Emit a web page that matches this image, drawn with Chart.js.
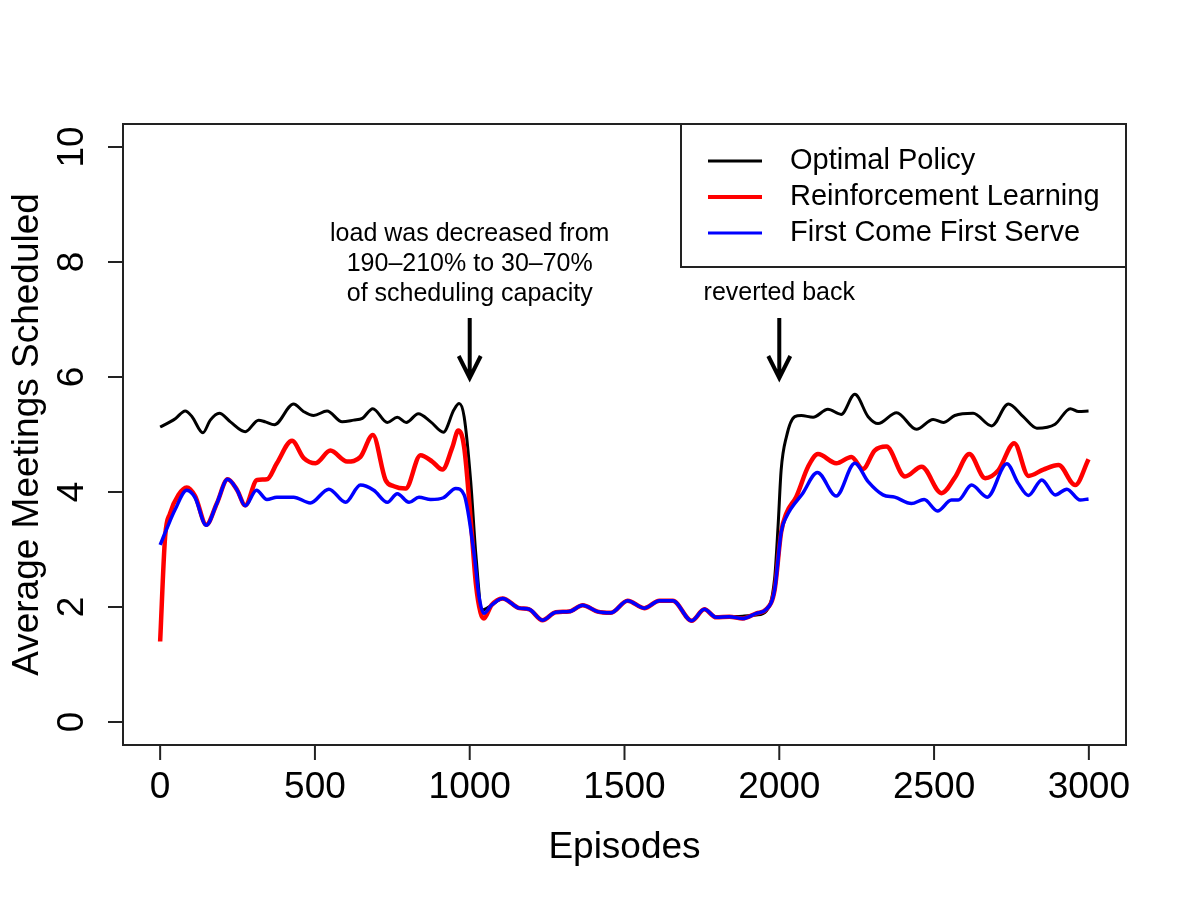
<!DOCTYPE html>
<html>
<head>
<meta charset="utf-8">
<script src="https://cdn.jsdelivr.net/npm/chart.js@4/dist/chart.umd.min.js"></script>
<style>
  html, body { margin: 0; padding: 0; background: #fff; }
  #wrap { width: 1190px; height: 898px; }
</style>
</head>
<body>
<div id="wrap"><canvas id="mychart" width="1190" height="898"></canvas></div>
<script>
// series (episode, average meetings)
var optimalEpisodes = [0, 32, 50, 81, 103, 138, 162, 191, 227, 275, 318, 340, 369, 431, 463, 496, 539, 588, 625, 653, 687, 734, 766, 795, 834, 874, 915, 949, 966, 982, 1003, 1020, 1040, 1070, 1106, 1160, 1192, 1235, 1278, 1321, 1365, 1413, 1456, 1510, 1564, 1613, 1656, 1717, 1758, 1796, 1839, 1882, 1926, 1958, 1985, 1996, 2006, 2023, 2050, 2071, 2109, 2157, 2200, 2244, 2287, 2319, 2379, 2443, 2497, 2530, 2567, 2626, 2686, 2740, 2788, 2832, 2891, 2940, 2967, 2999];
var optimalValues = [5.13, 5.22, 5.28, 5.41, 5.31, 5.03, 5.25, 5.37, 5.22, 5.05, 5.25, 5.22, 5.17, 5.53, 5.40, 5.33, 5.41, 5.22, 5.25, 5.28, 5.45, 5.21, 5.30, 5.21, 5.36, 5.22, 5.04, 5.43, 5.54, 5.31, 4.2, 2.9, 1.95, 2.03, 2.15, 1.98, 1.96, 1.77, 1.91, 1.92, 2.03, 1.92, 1.90, 2.11, 1.98, 2.11, 2.11, 1.76, 1.96, 1.82, 1.83, 1.84, 1.86, 1.93, 2.5, 3.4, 4.38, 4.96, 5.31, 5.33, 5.30, 5.44, 5.35, 5.70, 5.31, 5.19, 5.38, 5.09, 5.26, 5.21, 5.33, 5.37, 5.15, 5.53, 5.31, 5.11, 5.18, 5.45, 5.40, 5.41];

var rlEpisodes = [0, 16, 32, 59, 86, 113, 149, 183, 218, 248, 275, 313, 345, 377, 426, 464, 502, 550, 604, 647, 687, 728, 755, 793, 841, 879, 912, 944, 963, 982, 1005, 1020, 1035, 1046, 1070, 1106, 1160, 1192, 1235, 1278, 1321, 1365, 1413, 1456, 1510, 1564, 1613, 1656, 1717, 1758, 1796, 1839, 1882, 1926, 1958, 1985, 2006, 2023, 2055, 2093, 2125, 2184, 2233, 2270, 2308, 2346, 2406, 2460, 2524, 2567, 2614, 2665, 2708, 2759, 2805, 2853, 2902, 2956, 2999];
var rlValues = [1.40, 3.22, 3.63, 3.95, 4.08, 3.93, 3.43, 3.80, 4.22, 4.04, 3.77, 4.21, 4.22, 4.50, 4.89, 4.59, 4.50, 4.72, 4.53, 4.61, 4.99, 4.21, 4.10, 4.06, 4.64, 4.53, 4.39, 4.78, 5.07, 4.78, 3.4, 2.4, 1.9, 1.80, 2.03, 2.15, 1.98, 1.96, 1.77, 1.91, 1.92, 2.03, 1.92, 1.90, 2.11, 1.98, 2.11, 2.11, 1.76, 1.96, 1.82, 1.83, 1.80, 1.89, 1.96, 2.3, 3.3, 3.63, 3.92, 4.44, 4.66, 4.50, 4.61, 4.40, 4.72, 4.79, 4.27, 4.44, 3.98, 4.25, 4.66, 4.24, 4.38, 4.85, 4.28, 4.39, 4.47, 4.12, 4.57];

var fcfsEpisodes = [0, 22, 48, 86, 113, 149, 183, 218, 248, 275, 311, 345, 377, 431, 485, 545, 599, 647, 690, 734, 766, 804, 836, 874, 915, 955, 982, 1014, 1030, 1046, 1070, 1106, 1160, 1192, 1235, 1278, 1321, 1365, 1413, 1456, 1510, 1564, 1613, 1656, 1717, 1758, 1796, 1839, 1882, 1926, 1958, 1985, 2006, 2023, 2076, 2123, 2184, 2244, 2287, 2335, 2373, 2427, 2468, 2511, 2556, 2578, 2621, 2672, 2735, 2772, 2805, 2848, 2891, 2929, 2972, 2999];
var fcfsValues = [3.08, 3.37, 3.69, 4.03, 3.90, 3.42, 3.80, 4.22, 4.04, 3.76, 4.03, 3.87, 3.91, 3.91, 3.81, 4.05, 3.82, 4.12, 4.03, 3.82, 3.97, 3.82, 3.91, 3.87, 3.90, 4.06, 3.95, 2.93, 2.18, 1.89, 2.03, 2.15, 1.98, 1.96, 1.77, 1.91, 1.92, 2.03, 1.92, 1.90, 2.11, 1.98, 2.11, 2.11, 1.76, 1.96, 1.82, 1.83, 1.80, 1.89, 1.96, 2.3, 3.3, 3.57, 3.98, 4.34, 3.93, 4.50, 4.18, 3.95, 3.91, 3.80, 3.87, 3.67, 3.86, 3.86, 4.12, 3.91, 4.49, 4.15, 3.94, 4.21, 3.95, 4.05, 3.86, 3.88];

var seriesNames = ['Optimal Policy', 'Reinforcement Learning', 'First Come First Serve'];
var seriesColors = ['#000000', '#ff0000', '#0000ff'];
var xTicks = [0, 500, 1000, 1500, 2000, 2500, 3000];
var yTicks = [0, 2, 4, 6, 8, 10];

var FONT = '"Liberation Sans", Arial, Helvetica, sans-serif';

function pts(xs, ys) {
  return xs.map(function (x, i) { return { x: x, y: ys[i] }; });
}

// R-style box, axes, legend and arrows drawn on top of the chart area
var rStyle = {
  id: 'rStyle',
  afterDraw: function (chart) {
    var ctx = chart.ctx, a = chart.chartArea;
    var xs = chart.scales.x, ys = chart.scales.y;
    ctx.save();
    ctx.strokeStyle = '#222';
    ctx.lineWidth = 2;
    ctx.strokeRect(a.left, a.top, a.right - a.left, a.bottom - a.top);

    ctx.fillStyle = '#000';
    ctx.font = '37px ' + FONT;
    ctx.textAlign = 'center';
    ctx.textBaseline = 'middle';
    xTicks.forEach(function (t) {
      var px = xs.getPixelForValue(t);
      ctx.beginPath(); ctx.moveTo(px, a.bottom); ctx.lineTo(px, a.bottom + 15); ctx.stroke();
      ctx.fillText(String(t), px, a.bottom + 43);
    });
    yTicks.forEach(function (t) {
      var py = ys.getPixelForValue(t);
      ctx.beginPath(); ctx.moveTo(a.left, py); ctx.lineTo(a.left - 15, py); ctx.stroke();
      ctx.save();
      ctx.translate(a.left - 50, py);
      ctx.rotate(-Math.PI / 2);
      ctx.fillText(String(t), 0, 0);
      ctx.restore();
    });
    ctx.fillText('Episodes', (a.left + a.right) / 2, 848);
    ctx.save();
    ctx.translate(28, (a.top + a.bottom) / 2);
    ctx.rotate(-Math.PI / 2);
    ctx.fillText('Average Meetings Scheduled', 0, 0);
    ctx.restore();

    // legend
    ctx.strokeRect(681, a.top, a.right - 681, 143);
    ctx.font = '29px ' + FONT;
    ctx.textAlign = 'left';
    var widths = [3, 4, 3];
    seriesNames.forEach(function (n, i) {
      var y = 161 + i * 36;
      ctx.strokeStyle = seriesColors[i];
      ctx.lineWidth = widths[i];
      ctx.beginPath(); ctx.moveTo(708, y); ctx.lineTo(762, y); ctx.stroke();
      ctx.fillText(n, 790, y);
    });

    // annotations with arrows
    ctx.font = '25px ' + FONT;
    ctx.textAlign = 'center';
    var x1 = xs.getPixelForValue(1000), x2 = xs.getPixelForValue(2000);
    ctx.fillText('load was decreased from', x1, 234);
    ctx.fillText('190\u2013210% to 30\u201370%', x1, 264);
    ctx.fillText('of scheduling capacity', x1, 294);
    ctx.fillText('reverted back', x2, 293);
    ctx.strokeStyle = '#000';
    ctx.lineWidth = 4;
    [x1, x2].forEach(function (px) {
      ctx.beginPath();
      ctx.moveTo(px, 318); ctx.lineTo(px, 378);
      ctx.moveTo(px - 11, 356); ctx.lineTo(px, 378); ctx.lineTo(px + 11, 356);
      ctx.stroke();
    });
    ctx.restore();
  }
};

var ctx = document.getElementById('mychart');
var myChart = new Chart(ctx, {
  type: 'line',
  data: {
    datasets: [
      { label: seriesNames[0], data: pts(optimalEpisodes, optimalValues), borderColor: seriesColors[0], borderWidth: 3, order: 3 },
      { label: seriesNames[1], data: pts(rlEpisodes, rlValues), borderColor: seriesColors[1], borderWidth: 4.5, order: 2 },
      { label: seriesNames[2], data: pts(fcfsEpisodes, fcfsValues), borderColor: seriesColors[2], borderWidth: 3.5, order: 1 }
    ]
  },
  options: {
    responsive: false,
    animation: false,
    layout: { padding: { left: 123, top: 124, right: 64, bottom: 153 } },
    elements: {
      point: { radius: 0 },
      line: { cubicInterpolationMode: 'monotone', fill: false }
    },
    scales: {
      x: { type: 'linear', min: -120, max: 3120, display: false },
      y: { min: -0.4, max: 10.4, display: false }
    },
    plugins: {
      legend: { display: false },
      tooltip: { enabled: false }
    }
  },
  plugins: [rStyle]
});
</script>
</body>
</html>
